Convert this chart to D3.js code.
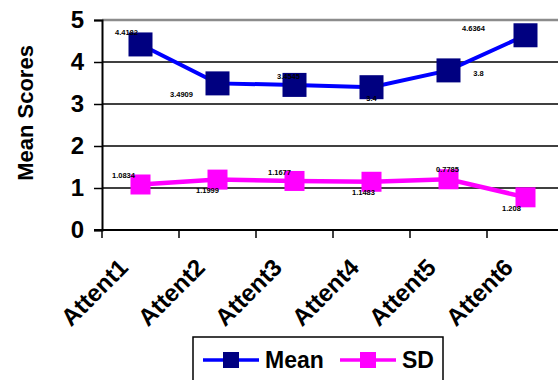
<!DOCTYPE html>
<html>
<head>
<meta charset="utf-8">
<script src="https://cdn.jsdelivr.net/npm/d3@7"></script>
<style>
  body { margin: 0; background: #fff; }
  svg { display: block; font-family: Arial, 'Liberation Sans', sans-serif; }
</style>
</head>
<body>
<div id="chart"></div>
<script>
const categories = ['Attent1', 'Attent2', 'Attent3', 'Attent4', 'Attent5', 'Attent6'];
const meanValues = [4.4182, 3.4909, 3.4545, 3.4, 3.8, 4.6364];
const sdValues = [1.0834, 1.1999, 1.1677, 1.1483, 1.208, 0.7785];
const meanLabels = ['4.4182', '3.4909', '3.4545', '3.4', '3.8', '4.6364'];
const sdLabels = ['1.0834', '1.1999', '1.1677', '1.1483', '0.7785', '1.208'];
const yTicks = [0, 1, 2, 3, 4, 5];

// where each data label sits relative to its marker
const meanLabelOffsets = [[-14, -12], [-36, 11], [-6, -9], [0, 11], [30, 3], [-52, -7]];
const sdLabelOffsets = [[-17, -9], [-10, 11], [-15, -9], [-8, 11], [-1, -10], [-14, 11]];

const width = 558;
const height = 380;
const svg = d3.select('#chart').append('svg').attr('width', width).attr('height', height);

const x = d3.scaleBand(categories, [102, 564]);
const y = d3.scaleLinear([0, 5], [230, 20]);
const cx = (i) => x(categories[i]) + x.bandwidth() / 2;

// gridlines
svg.append('g').selectAll('line').data(yTicks.filter((t) => t > 0)).join('line')
  .attr('x1', 102).attr('x2', width).attr('y1', (d) => y(d)).attr('y2', (d) => y(d))
  .attr('stroke', (d) => (d === 5 ? '#8c8c8c' : '#000')).attr('stroke-width', (d) => (d === 5 ? 2.5 : 1.5));

// y axis
const yAxis = svg.append('g').attr('transform', 'translate(102,0)')
  .call(d3.axisLeft(y).tickValues(yTicks).tickSize(8).tickPadding(10).tickFormat(d3.format('d')));
yAxis.select('.domain').attr('stroke', '#000').attr('stroke-width', 2);
yAxis.selectAll('.tick line').attr('stroke', '#000').attr('stroke-width', 1.5);
yAxis.selectAll('text').attr('font-size', 24).attr('font-weight', 'bold').attr('fill', '#000')
  .attr('font-family', 'Arial, Liberation Sans, sans-serif');

// x axis line with ticks at band edges
svg.append('line').attr('x1', 94).attr('x2', width).attr('y1', y(0)).attr('y2', y(0))
  .attr('stroke', '#000').attr('stroke-width', 2);
svg.append('g').selectAll('line').data(categories).join('line')
  .attr('x1', (d) => x(d)).attr('x2', (d) => x(d)).attr('y1', y(0)).attr('y2', y(0) + 8)
  .attr('stroke', '#000').attr('stroke-width', 1.5);
svg.append('g').selectAll('text').data(categories).join('text')
  .attr('transform', (d, i) => `translate(${cx(i) - 11},269) rotate(-45)`)
  .attr('text-anchor', 'end').attr('font-size', 24).attr('font-weight', 'bold').attr('fill', '#000')
  .text((d) => d);

// y title
svg.append('text').attr('transform', 'translate(33,113) rotate(-90)')
  .attr('text-anchor', 'middle').attr('font-size', 22).attr('font-weight', 'bold').attr('fill', '#000')
  .text('Mean Scores');

// series
const line = d3.line().x((d, i) => cx(i)).y((d) => y(d));
svg.append('path').datum(sdValues).attr('d', line).attr('fill', 'none').attr('stroke', '#ff00ff').attr('stroke-width', 4.5);
svg.append('path').datum(meanValues).attr('d', line).attr('fill', 'none').attr('stroke', '#0000ff').attr('stroke-width', 4);

svg.append('g').selectAll('rect').data(sdValues).join('rect')
  .attr('x', (d, i) => cx(i) - 10).attr('y', (d) => y(d) - 10).attr('width', 20).attr('height', 20)
  .attr('fill', '#ff00ff');
svg.append('g').selectAll('rect').data(meanValues).join('rect')
  .attr('x', (d, i) => cx(i) - 12).attr('y', (d) => y(d) - 12).attr('width', 24).attr('height', 24)
  .attr('fill', '#000080');

// data labels
const labelFont = (sel) => sel.attr('text-anchor', 'middle').attr('dy', '0.35em').attr('font-size', 7.5).attr('font-weight', 'bold').attr('fill', '#000');
svg.append('g').selectAll('text').data(meanValues).join('text')
  .attr('x', (d, i) => cx(i) + meanLabelOffsets[i][0]).attr('y', (d, i) => y(d) + meanLabelOffsets[i][1])
  .call(labelFont).text((d, i) => meanLabels[i]);
svg.append('g').selectAll('text').data(sdValues).join('text')
  .attr('x', (d, i) => cx(i) + sdLabelOffsets[i][0]).attr('y', (d, i) => y(d) + sdLabelOffsets[i][1])
  .call(labelFont).text((d, i) => sdLabels[i]);

// legend
const legend = svg.append('g');
legend.append('rect').attr('x', 193).attr('y', 337).attr('width', 250).attr('height', 60)
  .attr('fill', '#fff').attr('stroke', '#000').attr('stroke-width', 1.5);
const items = [
  { name: 'Mean', line: '#0000ff', fill: '#000080', x: 203 },
  { name: 'SD', line: '#ff00ff', fill: '#ff00ff', x: 340 },
];
const item = legend.selectAll('g').data(items).join('g').attr('transform', (d) => `translate(${d.x},360)`);
item.append('line').attr('x1', 0).attr('x2', 56).attr('stroke', (d) => d.line).attr('stroke-width', 3.5);
item.append('rect').attr('x', 20).attr('y', -8).attr('width', 16).attr('height', 16).attr('fill', (d) => d.fill);
item.append('text').attr('x', 62).attr('y', 8).attr('font-size', 23).attr('font-weight', 'bold').attr('fill', '#000')
  .text((d) => d.name);
</script>
</body>
</html>
